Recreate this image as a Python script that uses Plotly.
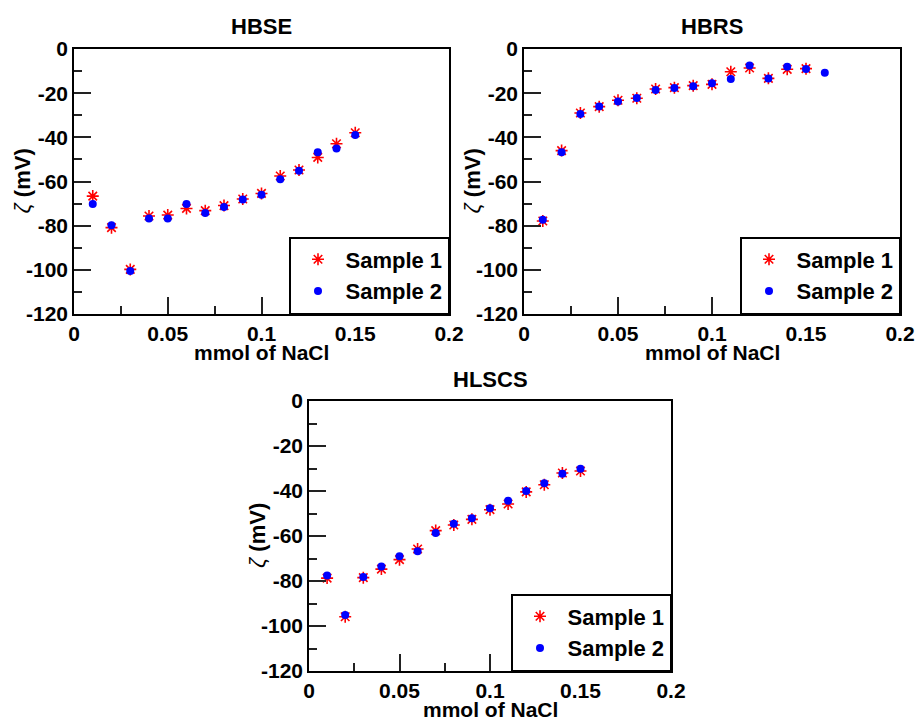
import plotly.graph_objects as go

W, H = 917, 721

x_vals = [0.01, 0.02, 0.03, 0.04, 0.05, 0.06, 0.07, 0.08, 0.09, 0.10, 0.11, 0.12, 0.13, 0.14, 0.15]
x_vals16 = x_vals + [0.16]

hbse_s1 = [-66.6, -80.9, -99.8, -75.6, -75.2, -72.2, -73.2, -70.9, -67.9, -65.4, -57.5, -54.8, -49.1, -42.9, -37.9]
hbse_s2 = [-70.2, -79.8, -100.5, -76.8, -76.7, -70.2, -74.3, -71.5, -68.2, -66.0, -59.0, -55.1, -46.8, -45.1, -38.9]

hbrs_s1 = [-77.9, -46.0, -29.0, -26.1, -23.2, -22.3, -18.1, -17.5, -16.6, -16.0, -10.3, -8.6, -13.3, -9.2, -8.9]
hbrs_s2 = [-77.3, -46.8, -29.4, -26.0, -23.8, -22.2, -18.6, -17.7, -16.9, -15.5, -13.6, -7.5, -13.4, -8.0, -9.1, -10.7]

hlscs_s1 = [-78.7, -95.9, -78.5, -74.7, -70.5, -65.8, -57.6, -55.1, -52.6, -48.3, -45.8, -40.4, -37.2, -32.0, -31.1]
hlscs_s2 = [-77.5, -95.1, -78.2, -73.5, -69.0, -66.8, -58.7, -54.5, -52.1, -47.7, -44.3, -40.0, -36.6, -32.3, -30.1]

titles = ["HBSE", "HBRS", "HLSCS"]
series_names = ["Sample 1", "Sample 2"]
y_tickvals = [0, -20, -40, -60, -80, -100, -120]
y_ticktext = ["0", "-20", "-40", "-60", "-80", "-100", "-120"]
y_minor = [-10, -30, -50, -70, -90, -110]
x_minor = [0.025, 0.075, 0.125, 0.175]
x_title = "mmol of NaCl"

FONT = "Liberation Sans, Arial, sans-serif"

# panel pixel boxes: left, right, top, bottom
boxes = [(74, 449, 49, 314), (524, 900, 49, 314), (309, 671, 401, 671)]
data = [(x_vals, hbse_s1, x_vals, hbse_s2),
        (x_vals, hbrs_s1, x_vals16, hbrs_s2),
        (x_vals, hlscs_s1, x_vals, hlscs_s2)]

fig = go.Figure()
annotations = []
layout = {}
for i, ((l, r, t, b), (x1, y1, x2, y2)) in enumerate(zip(boxes, data)):
    n = "" if i == 0 else str(i + 1)
    lg = "legend" if i == 0 else f"legend{i + 1}"
    fig.add_trace(go.Scatter(x=x1, y=y1, mode="markers", name=series_names[0],
                             xaxis="x" + n, yaxis="y" + n, legend=lg,
                             marker=dict(symbol="asterisk-open", size=10, color="red",
                                         line=dict(color="red", width=1.6))))
    fig.add_trace(go.Scatter(x=x2, y=y2, mode="markers", name=series_names[1],
                             xaxis="x" + n, yaxis="y" + n, legend=lg,
                             marker=dict(symbol="circle", size=8, color="blue")))
    xd = [l / W, r / W]
    yd = [1 - b / H, 1 - t / H]
    layout["xaxis" + n] = dict(
        domain=xd, anchor="y" + n, range=[0, 0.2], tick0=0, dtick=0.05,
        automargin=False,
        showline=True, mirror=True, linecolor="black", linewidth=1.5,
        ticks="inside", ticklen=17, tickwidth=1.5, tickcolor="#222",
        showgrid=False, zeroline=False,
        tickfont=dict(family=FONT, size=21, color="black", weight="bold"),
        minor=dict(tickvals=x_minor, ticks="inside", ticklen=8, tickwidth=1.5,
                   tickcolor="#222", showgrid=False),
    )
    layout["yaxis" + n] = dict(
        domain=yd, anchor="x" + n, range=[-120, 0],
        automargin=False,
        tickmode="array", tickvals=y_tickvals, ticktext=y_ticktext,
        showline=True, mirror=True, linecolor="black", linewidth=1.5,
        ticks="inside", ticklen=17, tickwidth=1.5, tickcolor="#222",
        showgrid=False, zeroline=False,
        tickfont=dict(family=FONT, size=21, color="black", weight="bold"),
        minor=dict(tickvals=y_minor, ticks="inside", ticklen=8, tickwidth=1.5,
                   tickcolor="#222", showgrid=False),
    )
    layout[lg] = dict(
        x=r / W, y=1 - b / H, xanchor="right", yanchor="bottom",
        bgcolor="white", bordercolor="black", borderwidth=1.5,
        font=dict(family=FONT, size=22, color="black", weight="bold"),
        itemwidth=45, tracegroupgap=0,
    )
    cx = (l + r) / 2 / W
    annotations.append(dict(text=f"<b>{titles[i]}</b>", x=cx, y=1 - (t - 22) / H,
                            xref="paper", yref="paper", showarrow=False,
                            xanchor="center", yanchor="middle",
                            font=dict(family=FONT, size=22, color="black")))
    annotations.append(dict(text=f"<b>{x_title}</b>", x=cx, y=1 - (b + 38) / H,
                            xref="paper", yref="paper", showarrow=False,
                            xanchor="center", yanchor="middle",
                            font=dict(family=FONT, size=21, color="black")))
    annotations.append(dict(text="<i>ζ</i> <b>(mV)</b>", x=(l - 52) / W, y=1 - (t + b) / 2 / H,
                            xref="paper", yref="paper", showarrow=False, textangle=-90,
                            xanchor="center", yanchor="middle",
                            font=dict(family=FONT, size=22, color="black")))

fig.update_layout(
    width=W, height=H, margin=dict(l=0, r=0, t=0, b=0, pad=0, autoexpand=False),
    paper_bgcolor="white", plot_bgcolor="white",
    annotations=annotations, **layout,
)

fig.write_html("out.html")
